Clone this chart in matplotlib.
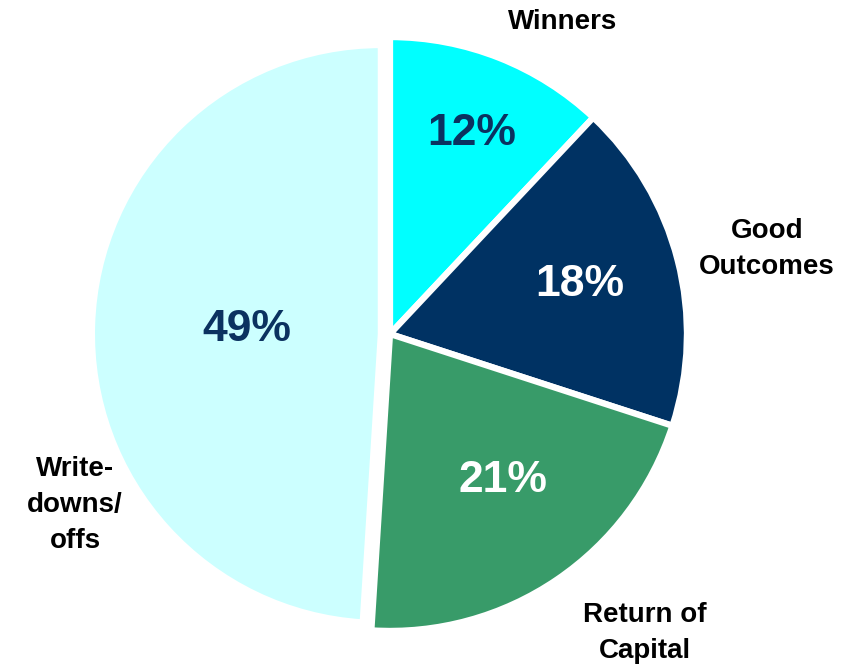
import matplotlib
matplotlib.use("Agg")
import matplotlib.pyplot as plt

# Outcome distribution
categories = ["Winners", "Good\nOutcomes", "Return of\nCapital", "Write-\ndowns/\noffs"]
shares = [12, 18, 21, 49]
colors = ["#00FFFF", "#003263", "#389B69", "#CCFFFF"]
pct_colors = ["#0B3260", "white", "white", "#0B3260"]

# label anchor points (axes data units, pie radius = 1)
pct_pos = [(0.279, 0.682), (0.646, 0.170), (0.384, -0.497), (-0.486, 0.017)]
cat_pos = [(0.588, 1.061), (1.282, 0.290), (0.867, -1.018), (-1.071, -0.580)]

plt.rcParams["font.family"] = ["Liberation Sans", "DejaVu Sans"]

fig = plt.figure(figsize=(8.61, 6.69), dpi=100)
ax = fig.add_axes([0, 0, 1, 1])

wedges, _ = ax.pie(
    shares,
    colors=colors,
    startangle=90,
    counterclock=False,
    radius=1.01,
    wedgeprops=dict(edgecolor="white", linewidth=4.5),
)

# the large slice sits slightly apart from the others
big = wedges[3]
big.set_center((-0.031, 0.0))
big.set_radius(0.983)

for (x, y), v, c in zip(pct_pos, shares, pct_colors):
    ax.text(x, y, f"{v}%", ha="center", va="center", fontsize=32,
            fontweight="bold", color=c)

for (x, y), name in zip(cat_pos, categories):
    ax.text(x, y, name, ha="center", va="center", fontsize=20,
            fontweight="bold", color="black", linespacing=1.5)

ax.set_xlim(-390 / 294, 471 / 294)
ax.set_ylim(-335 / 294, 334 / 294)
ax.set_aspect("auto")
ax.axis("off")

fig.savefig("out.png", dpi=100, facecolor="white")
